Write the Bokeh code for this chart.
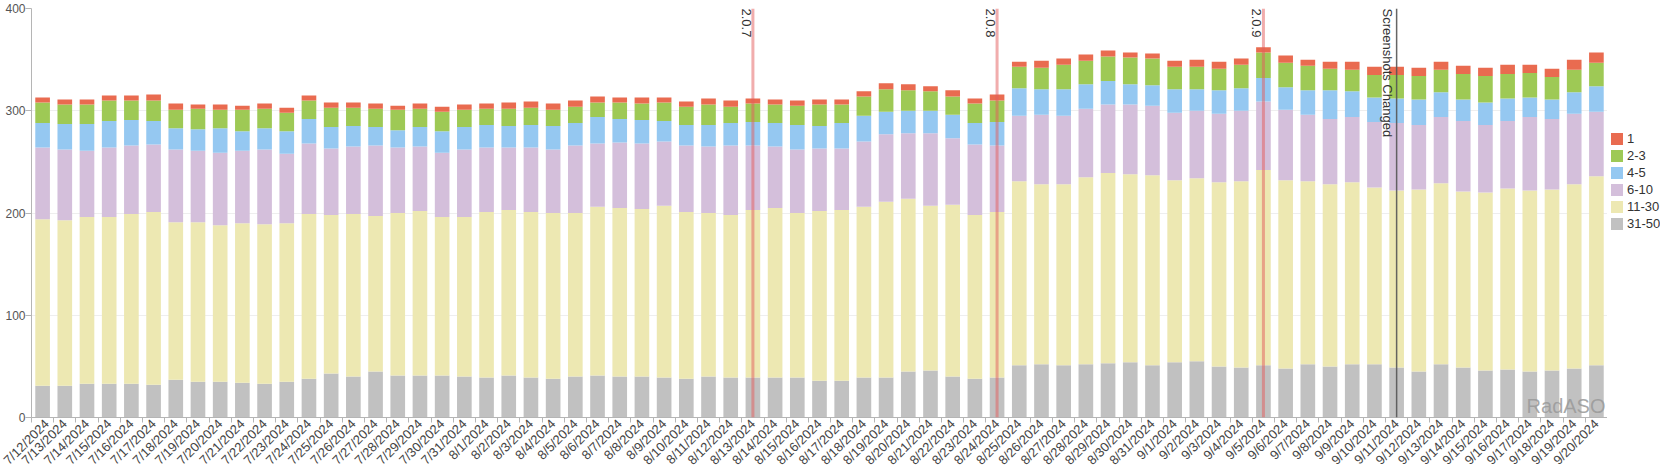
from math import pi
import numpy as np
from bokeh.plotting import figure
from bokeh.layouts import row
from bokeh.models import (ColumnDataSource, Range1d, FixedTicker, Span, Label,
                          Legend, LegendItem)
from bokeh.embed import file_html
from bokeh.resources import INLINE

dates = [
    "7/12/2024", "7/13/2024", "7/14/2024", "7/15/2024", "7/16/2024", "7/17/2024",
    "7/18/2024", "7/19/2024", "7/20/2024", "7/21/2024", "7/22/2024", "7/23/2024",
    "7/24/2024", "7/25/2024", "7/26/2024", "7/27/2024", "7/28/2024", "7/29/2024",
    "7/30/2024", "7/31/2024", "8/1/2024", "8/2/2024", "8/3/2024", "8/4/2024",
    "8/5/2024", "8/6/2024", "8/7/2024", "8/8/2024", "8/9/2024", "8/10/2024",
    "8/11/2024", "8/12/2024", "8/13/2024", "8/14/2024", "8/15/2024", "8/16/2024",
    "8/17/2024", "8/18/2024", "8/19/2024", "8/20/2024", "8/21/2024", "8/22/2024",
    "8/23/2024", "8/24/2024", "8/25/2024", "8/26/2024", "8/27/2024", "8/28/2024",
    "8/29/2024", "8/30/2024", "8/31/2024", "9/1/2024", "9/2/2024", "9/3/2024",
    "9/4/2024", "9/5/2024", "9/6/2024", "9/7/2024", "9/8/2024", "9/9/2024",
    "9/10/2024", "9/11/2024", "9/12/2024", "9/13/2024", "9/14/2024", "9/15/2024",
    "9/16/2024", "9/17/2024", "9/18/2024", "9/19/2024", "9/20/2024",
]

pos_31_50 = [31, 31, 33, 33, 33, 32, 37, 35, 35, 34, 33, 35, 38, 43, 40, 45, 41, 41,
             41, 40, 39, 41, 39, 38, 40, 41, 40, 40, 39, 38, 40, 39, 39, 39, 39, 36,
             36, 39, 39, 45, 46, 40, 38, 39, 51, 52, 51, 52, 53, 54, 51, 54, 55, 50,
             49, 51, 48, 52, 50, 52, 52, 49, 45, 52, 49, 46, 47, 45, 46, 48, 51]
pos_11_30 = [163, 162, 163, 163, 166, 169, 154, 156, 153, 156, 156, 155, 161, 155,
             159, 152, 159, 161, 155, 156, 162, 162, 162, 162, 160, 165, 165, 164,
             168, 163, 160, 159, 164, 166, 161, 166, 167, 167, 172, 169, 161, 168,
             160, 162, 180, 176, 177, 183, 186, 184, 186, 178, 179, 180, 182, 191,
             184, 179, 178, 178, 173, 173, 178, 177, 172, 174, 177, 177, 177, 180, 185]
pos_6_10 = [70, 69, 65, 68, 67, 66, 71, 70, 71, 71, 73, 68, 69, 65, 66, 69, 64, 63,
            63, 66, 63, 61, 63, 62, 66, 62, 64, 64, 63, 65, 65, 68, 63, 60, 62, 61,
            60, 64, 66, 64, 71, 65, 69, 65, 64, 68, 67, 67, 67, 68, 68, 66, 66, 67,
            69, 67, 69, 65, 64, 64, 64, 66, 63, 65, 69, 66, 66, 72, 69, 69, 63]
pos_4_5 = [24, 25, 26, 26, 25, 23, 21, 21, 24, 19, 21, 22, 24, 21, 20, 18, 17, 19,
           21, 22, 22, 21, 22, 23, 22, 26, 23, 23, 20, 20, 21, 22, 23, 23, 24, 22,
           25, 25, 22, 22, 22, 23, 21, 23, 27, 25, 26, 24, 23, 20, 20, 23, 21, 23,
           22, 23, 22, 24, 28, 25, 24, 24, 25, 24, 21, 22, 22, 19, 19, 21, 25]
pos_2_3 = [20, 19, 19, 20, 19, 20, 18, 20, 18, 21, 19, 18, 18, 19, 18, 18, 20, 18,
           19, 17, 16, 17, 17, 16, 16, 14, 16, 16, 18, 18, 20, 16, 18, 18, 19, 21,
           18, 19, 22, 20, 19, 18, 19, 21, 21, 21, 24, 23, 24, 26, 26, 22, 22, 21,
           23, 25, 24, 24, 21, 21, 22, 23, 23, 22, 25, 26, 24, 24, 22, 22, 23]
pos_1 = [5, 5, 5, 5, 5, 6, 6, 4, 5, 4, 5, 5, 5, 5, 5, 5, 4, 5, 5, 5, 5, 6, 6, 6,
         6, 6, 5, 6, 5, 5, 6, 6, 5, 5, 5, 5, 5, 5, 6, 6, 5, 6, 5, 6, 5, 7, 6, 6,
         6, 5, 5, 6, 7, 7, 6, 5, 7, 6, 7, 8, 8, 8, 8, 8, 8, 8, 9, 8, 8, 10, 10]

series_names = ["31-50", "11-30", "6-10", "4-5", "2-3", "1"]
series_colors = ["#c1c1c1", "#ede8b2", "#d4bfdb", "#95c8f1", "#9ec955", "#e96b50"]

y_ticks = [0, 100, 200, 300, 400]

events = [("8/13/2024", "2.0.7", "release"), ("8/24/2024", "2.0.8", "release"),
          ("9/5/2024", "2.0.9", "release"), ("9/11/2024", "Screenshots Changed", "other")]

idx = list(range(len(dates)))
data = dict(x=idx)
for name, vals in zip(series_names, [pos_31_50, pos_11_30, pos_6_10, pos_4_5, pos_2_3, pos_1]):
    data[name] = vals
src = ColumnDataSource(data)

FONT = "Liberation Sans"

p = figure(width=1607, height=476, output_backend="svg", toolbar_location=None,
           x_range=Range1d(-0.5, len(dates) - 0.5), y_range=Range1d(0, 400),
           min_border_left=31, min_border_right=0, min_border_top=8,
           min_border_bottom=56)
p.outline_line_color = None
p.background_fill_color = "white"
p.border_fill_color = "white"

rs = p.vbar_stack(series_names, x="x", width=0.66, source=src,
                  color=series_colors, line_color=None)

# axes
xa = p.xaxis[0]
xa.ticker = FixedTicker(ticks=idx, minor_ticks=[i - 0.5 for i in range(len(dates) + 1)])
xa.major_label_overrides = {i: d for i, d in enumerate(dates)}
xa.major_label_orientation = pi / 4
xa.major_tick_line_color = None
xa.major_tick_out = 5
xa.major_tick_in = 0
xa.minor_tick_out = 5
xa.minor_tick_in = 0
xa.minor_tick_line_color = "#b5b5b5"
xa.axis_line_color = "#b5b5b5"
xa.major_label_text_font = FONT
xa.major_label_text_font_size = "13px"
xa.major_label_text_color = "#444444"
xa.major_label_standoff = -1

ya = p.yaxis[0]
ya.ticker = FixedTicker(ticks=y_ticks)
ya.major_tick_out = 6
ya.major_tick_in = 0
ya.major_tick_line_color = "#b5b5b5"
ya.minor_tick_line_color = None
ya.axis_line_color = "#b5b5b5"
ya.major_label_text_font = FONT
ya.major_label_text_font_size = "12px"
ya.major_label_text_color = "#555555"
ya.major_label_standoff = 0

p.xgrid.grid_line_color = None
p.ygrid.grid_line_color = "#eeeeee"
p.ygrid.ticker = FixedTicker(ticks=y_ticks)

# event markers
for d, txt, kind in events:
    xi = dates.index(d)
    if kind == "release":
        p.add_layout(Span(location=xi, dimension="height", line_color="#e35b5b",
                          line_alpha=0.5, line_width=3))
    else:
        p.add_layout(Span(location=xi, dimension="height", line_color="#555555",
                          line_alpha=0.9, line_width=1.5))
    p.add_layout(Label(x=xi, y=400, text=txt, angle=-pi / 2, text_align="left",
                       text_baseline="top", x_offset=-2, y_offset=0,
                       text_font=FONT, text_font_size="13px", text_color="#333333"))

# watermark
p.add_layout(Label(x=len(dates) - 0.5, y=0, text="RadASO", text_align="right",
                   text_baseline="bottom", x_offset=-2, y_offset=1,
                   text_font=FONT, text_font_size="20px", text_color="#999999",
                   text_alpha=0.85))

# legend panel (separate narrow figure to the right of the plot frame)
lf = figure(width=53, height=476, output_backend="svg", toolbar_location=None,
            x_range=Range1d(0, 1), y_range=Range1d(0, 1),
            x_axis_location=None, y_axis_location=None, min_border=0)
lf.grid.visible = False
lf.outline_line_color = None
lf.background_fill_color = "white"
lf.border_fill_color = "white"
legend_items = []
for name, color in reversed(list(zip(series_names, series_colors))):
    # zero-height proxy bar: only used to carry the legend swatch style
    r = lf.vbar(x=[0.5], top=[0], bottom=[0], width=0.5, fill_color=color,
                line_color=None)
    legend_items.append(LegendItem(label=name, renderers=[r]))

legend = Legend(items=legend_items, location=(2, 186), glyph_width=15,
                glyph_height=15, spacing=2, padding=0, margin=0, label_standoff=3,
                label_height=15, label_text_font=FONT, label_text_font_size="13px",
                label_text_color="#333333", border_line_color=None,
                background_fill_alpha=0)
lf.add_layout(legend)

layout = row(p, lf)
open("out.html", "w").write(file_html(layout, INLINE))
